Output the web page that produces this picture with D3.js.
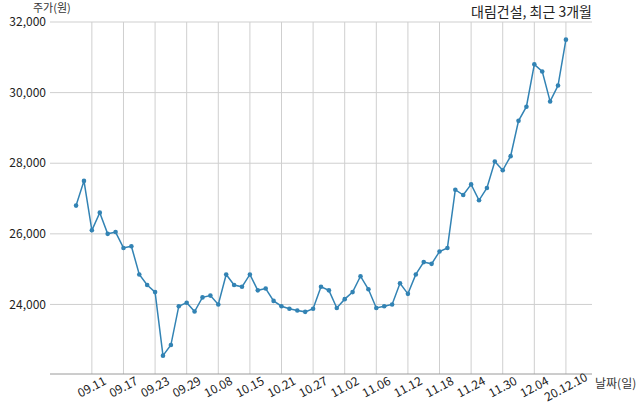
<!DOCTYPE html>
<html><head><meta charset="utf-8">
<script src="https://cdn.jsdelivr.net/npm/d3@7"></script>
<style>body{margin:0;background:#fff}svg{display:block}text{font-family:"Noto Sans CJK KR","Noto Sans",sans-serif}</style>
</head><body><svg id="c" width="640" height="414"></svg>
<script>
const title = "대림건설, 최근 3개월";
const yLabel = "주가(원)";
const xLabel = "날짜(일)";
const dates = ["09.09","09.10","09.11","09.14","09.15","09.16","09.17","09.18","09.21","09.22","09.23","09.24","09.25","09.28","09.29","10.05","10.06","10.07","10.08","10.12","10.13","10.14","10.15","10.16","10.19","10.20","10.21","10.22","10.23","10.26","10.27","10.28","10.29","10.30","11.02","11.03","11.04","11.05","11.06","11.09","11.10","11.11","11.12","11.13","11.16","11.17","11.18","11.19","11.20","11.23","11.24","11.25","11.26","11.27","11.30","12.01","12.02","12.03","12.04","12.07","12.08","12.09","20.12.10"];
const prices = [26800,27500,26100,26600,26000,26050,25600,25650,24850,24550,24350,22550,22850,23950,24050,
  23800,24200,24250,24000,24850,24550,24500,24850,24400,24450,24100,23950,23880,23830,23790,23880,
  24500,24400,23900,24150,24350,24800,24430,23900,23950,24000,24600,24300,24850,25200,25150,25500,
  25600,27250,27100,27400,26950,27300,28050,27800,28200,29200,29600,30800,30600,29750,30200,31500];
const tickIdx = [2,6,10,14,18,22,26,30,34,38,42,46,50,54,58,62];
const yTicks = [24000,26000,28000,30000,32000];

const svg = d3.select("#c");
const L=50,R=592,T=22,B=374;
const x = d3.scaleLinear().domain([-3.3, prices.length-1+3.3]).range([L,R]);
const y = d3.scaleLinear().domain([22030,32000]).range([B,T]);
const col = "#3283b4";

svg.append("g").selectAll("line").data(yTicks).join("line")
  .attr("x1",L).attr("x2",R).attr("y1",d=>y(d)).attr("y2",d=>y(d))
  .attr("stroke","#cfcfcf").attr("stroke-width",1);
svg.append("g").selectAll("line").data(tickIdx).join("line")
  .attr("x1",d=>x(d)).attr("x2",d=>x(d)).attr("y1",T).attr("y2",B)
  .attr("stroke","#cfcfcf").attr("stroke-width",1);
svg.append("line").attr("x1",L).attr("x2",R).attr("y1",B).attr("y2",B).attr("stroke","#9a9a9a").attr("stroke-width",1);

svg.append("g").selectAll("text").data(yTicks).join("text")
  .attr("x",46).attr("y",d=>y(d)).attr("dy","0.35em").attr("text-anchor","end")
  .attr("font-size",12).attr("fill","#222").text(d=>d3.format(",")(d));
svg.append("g").selectAll("text").data(tickIdx).join("text")
  .attr("transform",d=>`translate(${x(d)},${B+13}) rotate(-28)`)
  .attr("text-anchor","middle").attr("dy","0.35em")
  .attr("font-size",12).attr("fill","#222").text(d=>dates[d]);

const line = d3.line().x((d,i)=>x(i)).y(d=>y(d));
svg.append("path").datum(prices).attr("d",line).attr("fill","none").attr("stroke",col).attr("stroke-width",1.5);
svg.append("g").selectAll("circle").data(prices).join("circle")
  .attr("cx",(d,i)=>x(i)).attr("cy",d=>y(d)).attr("r",2.3).attr("fill",col);

svg.append("text").attr("x",R).attr("y",17).attr("text-anchor","end").attr("font-size",14).attr("fill","#222").text(title);
svg.append("text").attr("x",33).attr("y",12).attr("font-size",11).attr("fill","#333").text(yLabel);
svg.append("text").attr("x",595).attr("y",B+10).attr("dy","0.35em").attr("font-size",12).attr("fill","#333").text(xLabel);
</script></body></html>
